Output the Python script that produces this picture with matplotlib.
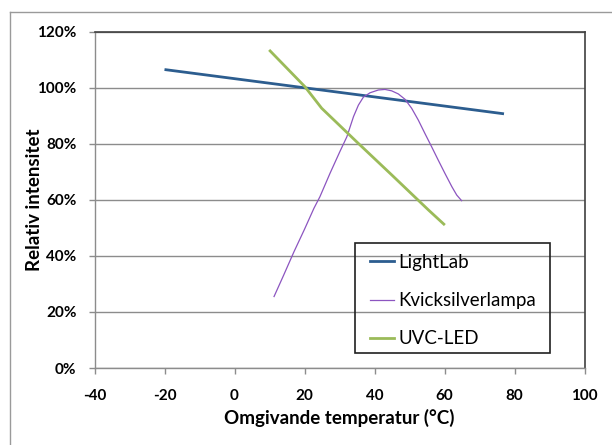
import matplotlib.pyplot as plt
from matplotlib.lines import Line2D
from matplotlib.patches import Rectangle
from matplotlib.ticker import FuncFormatter

# data (temperature in °C, intensity in %)
lightlab_t = [-20, 77]
lightlab_i = [106.5, 90.7]

kvick_t = [11.3, 14.0, 17.0, 20.0, 22.7, 24.4, 27.3, 30.1, 32.1, 34.0, 35.4, 36.8,
           38.7, 41.1, 43.0, 44.9, 46.8, 48.7, 50.6, 52.5, 54.4, 56.3, 58.2,
           60.1, 62.1, 63.5, 64.9]
kvick_i = [25.5, 33.0, 41.5, 49.5, 57.0, 61.1, 69.5, 77.2, 82.5, 89.7, 93.8, 96.6,
           98.2, 99.2, 99.4, 98.9, 97.8, 95.9, 92.7, 88.5, 83.7, 79.0, 74.2,
           69.5, 64.7, 61.7, 59.7]

uvc_t = [9.9, 20.1, 24.9, 35.0, 45.0, 55.4, 60.1]
uvc_i = [113.5, 100.4, 92.7, 80.6, 68.8, 56.4, 51.0]

x_ticks = [-40, -20, 0, 20, 40, 60, 80, 100]
y_ticks = [0, 20, 40, 60, 80, 100, 120]

blue = "#2c5d8f"
purple = "#8c55c0"
green = "#9bbb59"
grid_c = "#8c8c8c"

plt.rcParams['font.family'] = ['Lato', 'DejaVu Sans']
plt.rcParams['axes.unicode_minus'] = False

W, H = 612, 445
fig = plt.figure(figsize=(6.12, 4.45), dpi=100)
ax = fig.add_axes([94.5 / W, 1 - 368 / H, 490 / W, 336.3 / H])

ax.plot(lightlab_t, lightlab_i, color=blue, linewidth=2.0, solid_capstyle='butt', zorder=3)
ax.plot(kvick_t, kvick_i, color=purple, linewidth=0.9, zorder=3)
ax.plot(uvc_t, uvc_i, color=green, linewidth=2.0, solid_capstyle='butt', zorder=3)

ax.set_xlim(-40, 100)
ax.set_ylim(0, 120)
ax.set_xticks(x_ticks)
ax.set_yticks(y_ticks)
ax.yaxis.set_major_formatter(FuncFormatter(lambda v, p: "%d%%" % v))
ax.grid(axis='y', color=grid_c, linewidth=1.0)
ax.set_axisbelow(True)

for side in ['left', 'bottom']:
    ax.spines[side].set_color(grid_c)
    ax.spines[side].set_linewidth(1.0)
for side in ['top', 'right']:
    ax.spines[side].set_color("#404040")
    ax.spines[side].set_linewidth(1.2)

ax.tick_params(axis='both', direction='out', length=4, width=1.0, color=grid_c,
               labelsize=11)
ax.tick_params(axis='y', pad=9)
ax.tick_params(axis='x', pad=11)
for lab in ax.get_xticklabels() + ax.get_yticklabels():
    lab.set_fontweight('bold')

ax.set_xlabel("Omgivande temperatur (°C)", fontsize=13.5, fontweight='bold')
ax.set_ylabel("Relativ intensitet", fontsize=13.5, fontweight='bold')
ax.xaxis.set_label_coords(0.5, (368 - 409) / 336.3)
ax.yaxis.set_label_coords((43 - 94.5) / 490, 0.5)

# legend (frame drawn separately to match the box size)
handles = [Line2D([], [], color=blue, linewidth=2.0),
           Line2D([], [], color=purple, linewidth=0.9),
           Line2D([], [], color=green, linewidth=2.0)]
fig.legend(handles, ["LightLab", "Kvicksilverlampa", "UVC-LED"],
           loc='upper left', bbox_to_anchor=(370 / W, 1 - 254 / H),
           fontsize=13.5, frameon=False, handlelength=1.3, handletextpad=0.2,
           labelspacing=1.13, borderpad=0, borderaxespad=0)
fig.add_artist(Rectangle((355 / W, 1 - 353 / H), 195 / W, 110 / H,
                         transform=fig.transFigure, facecolor='none',
                         edgecolor="#202020", linewidth=1.2))

# outer chart frame
fig.add_artist(Line2D([9.5 / W, 1], [1 - 12 / H, 1 - 12 / H],
                      transform=fig.transFigure, color="#9a9a9a", linewidth=1.0))
fig.add_artist(Line2D([9.5 / W, 9.5 / W], [0, 1 - 12 / H],
                      transform=fig.transFigure, color="#9a9a9a", linewidth=1.0))

plt.savefig("out.png", dpi=100)
plt.close()
